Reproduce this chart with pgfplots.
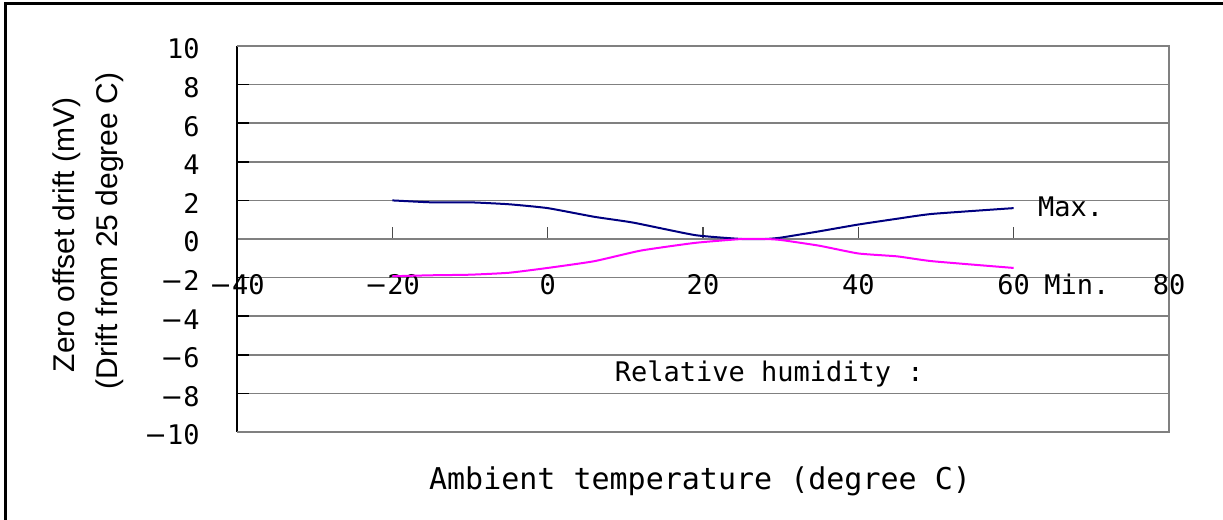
\documentclass[border=0pt]{standalone}
\usepackage{pgfplots}
\pgfplotsset{compat=1.18}
\usepackage{fontspec}
\setmainfont{Liberation Sans}
\newfontfamily\mono{DejaVu Sans Mono}
\newfontfamily\dv{DejaVu Sans}
\newcommand\mm{{\dv −}}
\definecolor{maxc}{RGB}{0,0,128}
\definecolor{minc}{RGB}{255,0,255}
\begin{document}
\begin{tikzpicture}
\useasboundingbox (-118.5pt,-44pt) rectangle (493pt,216pt);
\begin{axis}[
  at={(0,0)}, anchor=south west,
  scale only axis, width=466pt, height=193pt,
  xmin=-40, xmax=80, ymin=-10, ymax=10,
  enlargelimits=false,
  axis x line=middle, axis y line=left,
  x axis line style={-, draw=gray, line width=1.2pt},
  y axis line style={-, draw=black, line width=1pt},
  xtick={-40,-20,0,20,40,60,80},
  ytick={-10,-8,-6,-4,-2,0,2,4,6,8,10},
  xticklabels={\mm40,\mm20,0,20,40,60,80},
  yticklabels={\mm10,\mm8,\mm6,\mm4,\mm2,0,2,4,6,8,10},
  xtick align=inside, ytick align=inside,
  major tick length=6pt,
  xtick style={draw=gray!60!black, line width=0.8pt},
  ytick style={draw=black, line width=0.8pt},
  hide obscured x ticks=false, hide obscured y ticks=false,
  ymajorgrids, grid style={draw=gray, line width=0.8pt},
  xticklabel style={font=\mono\fontsize{13.5}{16}\selectfont, anchor=base, inner sep=0pt, yshift=-27.75pt},
  yticklabel style={font=\mono\fontsize{13.5}{16}\selectfont, anchor=east, inner sep=0pt, xshift=-18.5pt, yshift=-1.5pt},
  clip=false,
]
\draw[gray, line width=1.2pt] (rel axis cs:0,0) -- (rel axis cs:1,0) -- (rel axis cs:1,1) -- (rel axis cs:0,1);
\addplot[maxc, line width=1pt, smooth, tension=0.3] coordinates {
(-20,2.0) (-15,1.9) (-10,1.9) (-5,1.8) (0,1.6) (6,1.15) (11,0.85) (19,0.2) (25,0) (28,0) (30,0.07) (35,0.4) (40,0.75) (45,1.05) (49.5,1.3) (60,1.6)};
\addplot[minc, line width=1pt, smooth, tension=0.3] coordinates {
(-20,-1.93) (-15,-1.88) (-10,-1.85) (-5,-1.75) (0,-1.5) (6,-1.15) (12,-0.6) (19,-0.2) (25,0) (28,0) (30,-0.05) (35,-0.35) (40,-0.75) (45,-0.9) (49.5,-1.15) (60,-1.5)};
\node[anchor=base west, inner sep=0pt, font=\mono\fontsize{13.5}{16}\selectfont] at (axis cs:63.1,1.18) {Max.};
\node[anchor=base west, inner sep=0pt, font=\mono\fontsize{13.5}{16}\selectfont] at (axis cs:63.9,-2.88) {Min.};
\node[anchor=base west, inner sep=0pt, font=\mono\fontsize{13.5}{16}\selectfont] at (axis cs:8.6,-7.37) {Relative humidity :};
\end{axis}
\node[anchor=base, inner sep=0pt, font=\mono\fontsize{15}{18}\selectfont] at (231.5pt,-29pt) {Ambient temperature (degree C)};
\node[rotate=90, anchor=base, inner sep=0pt, font=\fontsize{15}{18}\selectfont] at (-81pt,98.5pt) {Zero offset drift (mV)};
\node[rotate=90, anchor=base, inner sep=0pt, font=\fontsize{15}{18}\selectfont] at (-59.5pt,100.5pt) {(Drift from 25 degree C)};
\draw[line width=1.5pt] (-115.65pt,-45pt) -- (-115.65pt,214.4pt) -- (494pt,214.4pt);
\end{tikzpicture}
\end{document}
